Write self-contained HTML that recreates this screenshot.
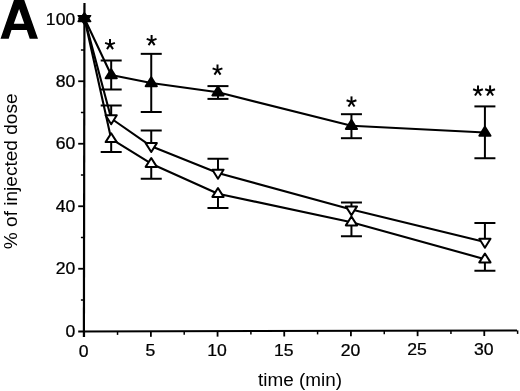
<!DOCTYPE html>
<html><head><meta charset="utf-8"><title>A</title>
<style>
html,body{margin:0;padding:0;background:#fff;}
body{width:520px;height:391px;overflow:hidden;}
svg{display:block;filter:grayscale(1);}
text{font-family:"Liberation Sans",sans-serif;fill:#000;}
</style></head><body>
<svg width="520" height="391" viewBox="0 0 520 391">
<rect width="520" height="391" fill="#fff"/>

<g stroke="#000" stroke-width="2" fill="none" stroke-linecap="butt">
<line x1="84.45" y1="3" x2="83.9" y2="337" stroke-width="2.2"/>
<line x1="78.2" y1="331.5" x2="517" y2="330.4"/>
<line x1="80.9" y1="300.00" x2="84.5" y2="300.00" stroke-width="1.5"/>
<line x1="78.2" y1="268.75" x2="84.5" y2="268.75" stroke-width="1.8"/>
<line x1="80.9" y1="237.50" x2="84.5" y2="237.50" stroke-width="1.5"/>
<line x1="78.2" y1="206.25" x2="84.5" y2="206.25" stroke-width="1.8"/>
<line x1="80.9" y1="175.00" x2="84.5" y2="175.00" stroke-width="1.5"/>
<line x1="78.2" y1="143.75" x2="84.5" y2="143.75" stroke-width="1.8"/>
<line x1="80.9" y1="112.50" x2="84.5" y2="112.50" stroke-width="1.5"/>
<line x1="78.2" y1="81.25" x2="84.5" y2="81.25" stroke-width="1.8"/>
<line x1="80.9" y1="50.00" x2="84.5" y2="50.00" stroke-width="1.5"/>
<line x1="78.2" y1="18.75" x2="84.5" y2="18.75" stroke-width="1.8"/>
<line x1="84.20" y1="331.48" x2="84.20" y2="336.98" stroke-width="1.8"/>
<line x1="117.54" y1="331.40" x2="117.54" y2="334.90" stroke-width="1.5"/>
<line x1="150.88" y1="331.32" x2="150.88" y2="336.82" stroke-width="1.8"/>
<line x1="184.22" y1="331.23" x2="184.22" y2="334.73" stroke-width="1.5"/>
<line x1="217.56" y1="331.15" x2="217.56" y2="336.65" stroke-width="1.8"/>
<line x1="250.90" y1="331.07" x2="250.90" y2="334.57" stroke-width="1.5"/>
<line x1="284.24" y1="330.98" x2="284.24" y2="336.48" stroke-width="1.8"/>
<line x1="317.58" y1="330.90" x2="317.58" y2="334.40" stroke-width="1.5"/>
<line x1="350.92" y1="330.82" x2="350.92" y2="336.32" stroke-width="1.8"/>
<line x1="384.26" y1="330.73" x2="384.26" y2="334.23" stroke-width="1.5"/>
<line x1="417.60" y1="330.65" x2="417.60" y2="336.15" stroke-width="1.8"/>
<line x1="450.94" y1="330.57" x2="450.94" y2="334.07" stroke-width="1.5"/>
<line x1="484.28" y1="330.48" x2="484.28" y2="335.98" stroke-width="1.8"/>
<line x1="517.62" y1="330.40" x2="517.62" y2="333.90" stroke-width="1.5"/>
</g>
<g stroke="#000" stroke-width="2" fill="none">
<line x1="111.19" y1="60.50" x2="111.19" y2="89.50"/>
<line x1="100.69" y1="60.50" x2="121.69" y2="60.50"/>
<line x1="100.69" y1="89.50" x2="121.69" y2="89.50"/>
<line x1="151.24" y1="53.85" x2="151.24" y2="112.00"/>
<line x1="140.74" y1="53.85" x2="161.74" y2="53.85"/>
<line x1="140.74" y1="112.00" x2="161.74" y2="112.00"/>
<line x1="217.97" y1="86.10" x2="217.97" y2="98.90"/>
<line x1="207.47" y1="86.10" x2="228.47" y2="86.10"/>
<line x1="207.47" y1="98.90" x2="228.47" y2="98.90"/>
<line x1="351.44" y1="114.20" x2="351.44" y2="138.20"/>
<line x1="340.94" y1="114.20" x2="361.94" y2="114.20"/>
<line x1="340.94" y1="138.20" x2="361.94" y2="138.20"/>
<line x1="484.91" y1="106.40" x2="484.91" y2="158.25"/>
<line x1="474.41" y1="106.40" x2="495.41" y2="106.40"/>
<line x1="474.41" y1="158.25" x2="495.41" y2="158.25"/>
<line x1="111.19" y1="105.50" x2="111.19" y2="118.50"/>
<line x1="100.69" y1="105.50" x2="121.69" y2="105.50"/>
<line x1="151.24" y1="130.50" x2="151.24" y2="146.30"/>
<line x1="140.74" y1="130.50" x2="161.74" y2="130.50"/>
<line x1="217.97" y1="158.75" x2="217.97" y2="173.00"/>
<line x1="207.47" y1="158.75" x2="228.47" y2="158.75"/>
<line x1="351.44" y1="202.50" x2="351.44" y2="209.60"/>
<line x1="340.94" y1="202.50" x2="361.94" y2="202.50"/>
<line x1="484.91" y1="223.00" x2="484.91" y2="242.00"/>
<line x1="474.41" y1="223.00" x2="495.41" y2="223.00"/>
<line x1="111.19" y1="138.90" x2="111.19" y2="152.00"/>
<line x1="100.69" y1="152.00" x2="121.69" y2="152.00"/>
<line x1="151.24" y1="163.70" x2="151.24" y2="178.75"/>
<line x1="140.74" y1="178.75" x2="161.74" y2="178.75"/>
<line x1="217.97" y1="193.70" x2="217.97" y2="208.00"/>
<line x1="207.47" y1="208.00" x2="228.47" y2="208.00"/>
<line x1="351.44" y1="222.20" x2="351.44" y2="236.25"/>
<line x1="340.94" y1="236.25" x2="361.94" y2="236.25"/>
<line x1="484.91" y1="259.20" x2="484.91" y2="270.75"/>
<line x1="474.41" y1="270.75" x2="495.41" y2="270.75"/>
</g>
<polyline points="84.50,18.50 111.19,75.00 151.24,83.00 217.97,92.30 351.44,125.80 484.91,132.50" stroke="#000" stroke-width="2.1" fill="none" stroke-linejoin="round"/>
<polyline points="84.50,18.50 111.19,118.50 151.24,146.30 217.97,173.00 351.44,209.60 484.91,242.00" stroke="#000" stroke-width="2.1" fill="none" stroke-linejoin="round"/>
<polyline points="84.50,18.50 111.19,138.90 151.24,163.70 217.97,193.70 351.44,222.20 484.91,259.20" stroke="#000" stroke-width="2.1" fill="none" stroke-linejoin="round"/>
<polygon points="111.19,124.20 105.59,115.30 116.79,115.30" fill="#fff" stroke="#000" stroke-width="2" stroke-linejoin="round"/>
<polygon points="111.19,133.20 105.59,142.10 116.79,142.10" fill="#fff" stroke="#000" stroke-width="2" stroke-linejoin="round"/>
<polygon points="111.19,69.30 105.59,78.20 116.79,78.20" fill="#000" stroke="#000" stroke-width="2" stroke-linejoin="round"/>
<polygon points="151.24,152.00 145.64,143.10 156.84,143.10" fill="#fff" stroke="#000" stroke-width="2" stroke-linejoin="round"/>
<polygon points="151.24,158.00 145.64,166.90 156.84,166.90" fill="#fff" stroke="#000" stroke-width="2" stroke-linejoin="round"/>
<polygon points="151.24,77.30 145.64,86.20 156.84,86.20" fill="#000" stroke="#000" stroke-width="2" stroke-linejoin="round"/>
<polygon points="217.97,178.70 212.37,169.80 223.57,169.80" fill="#fff" stroke="#000" stroke-width="2" stroke-linejoin="round"/>
<polygon points="217.97,188.00 212.37,196.90 223.57,196.90" fill="#fff" stroke="#000" stroke-width="2" stroke-linejoin="round"/>
<polygon points="217.97,86.60 212.37,95.50 223.57,95.50" fill="#000" stroke="#000" stroke-width="2" stroke-linejoin="round"/>
<polygon points="351.44,215.30 345.84,206.40 357.04,206.40" fill="#fff" stroke="#000" stroke-width="2" stroke-linejoin="round"/>
<polygon points="351.44,216.50 345.84,225.40 357.04,225.40" fill="#fff" stroke="#000" stroke-width="2" stroke-linejoin="round"/>
<polygon points="351.44,120.10 345.84,129.00 357.04,129.00" fill="#000" stroke="#000" stroke-width="2" stroke-linejoin="round"/>
<polygon points="484.91,247.70 479.31,238.80 490.51,238.80" fill="#fff" stroke="#000" stroke-width="2" stroke-linejoin="round"/>
<polygon points="484.91,253.50 479.31,262.40 490.51,262.40" fill="#fff" stroke="#000" stroke-width="2" stroke-linejoin="round"/>
<polygon points="484.91,126.80 479.31,135.70 490.51,135.70" fill="#000" stroke="#000" stroke-width="2" stroke-linejoin="round"/>
<polygon points="84.4,12.65 78.10000000000001,21.50 90.7,21.50" fill="#000" stroke="#000" stroke-width="1.4" stroke-linejoin="round"/>
<polygon points="84.4,24.45 78.10000000000001,15.60 90.7,15.60" fill="#000" stroke="#000" stroke-width="1.4" stroke-linejoin="round"/>
<path d="M0.5,38.7 L14.3,-1 L23.9,-1 L38,38.7 L29.7,38.7 L26.8,29.9 L11.5,29.9 L8.7,38.7 Z M13.8,23.7 L24.3,23.7 L19.1,9 Z" fill="#000" fill-rule="evenodd"/>
<text transform="translate(75.2,336.85) scale(1.1,1)" text-anchor="end" font-size="16" stroke="#000" stroke-width="0.25">0</text>
<text transform="translate(75.2,274.35) scale(1.1,1)" text-anchor="end" font-size="16" stroke="#000" stroke-width="0.25">20</text>
<text transform="translate(75.2,211.85) scale(1.1,1)" text-anchor="end" font-size="16" stroke="#000" stroke-width="0.25">40</text>
<text transform="translate(75.2,149.35) scale(1.1,1)" text-anchor="end" font-size="16" stroke="#000" stroke-width="0.25">60</text>
<text transform="translate(75.2,86.85) scale(1.1,1)" text-anchor="end" font-size="16" stroke="#000" stroke-width="0.25">80</text>
<text transform="translate(75.2,24.85) scale(1.1,1)" text-anchor="end" font-size="16" stroke="#000" stroke-width="0.25">100</text>
<text transform="translate(83.70,356.50) scale(1.1,1)" text-anchor="middle" font-size="16" stroke="#000" stroke-width="0.25">0</text>
<text transform="translate(150.38,356.28) scale(1.1,1)" text-anchor="middle" font-size="16" stroke="#000" stroke-width="0.25">5</text>
<text transform="translate(217.06,356.06) scale(1.1,1)" text-anchor="middle" font-size="16" stroke="#000" stroke-width="0.25">10</text>
<text transform="translate(283.74,355.84) scale(1.1,1)" text-anchor="middle" font-size="16" stroke="#000" stroke-width="0.25">15</text>
<text transform="translate(350.42,355.62) scale(1.1,1)" text-anchor="middle" font-size="16" stroke="#000" stroke-width="0.25">20</text>
<text transform="translate(417.10,355.40) scale(1.1,1)" text-anchor="middle" font-size="16" stroke="#000" stroke-width="0.25">25</text>
<text transform="translate(483.78,355.18) scale(1.1,1)" text-anchor="middle" font-size="16" stroke="#000" stroke-width="0.25">30</text>
<text x="300" y="386.2" text-anchor="middle" font-size="18.9">time (min)</text>
<text transform="translate(17.3,171.3) rotate(-90) scale(1.02,1)" text-anchor="middle" font-size="18.7">% of injected dose</text>
<g stroke="#000" stroke-width="2" stroke-linecap="butt">
<line x1="110.00" y1="44.60" x2="110.00" y2="39.00"/>
<line x1="110.00" y1="44.60" x2="114.90" y2="42.87"/>
<line x1="110.00" y1="44.60" x2="113.03" y2="49.13"/>
<line x1="110.00" y1="44.60" x2="106.97" y2="49.13"/>
<line x1="110.00" y1="44.60" x2="105.10" y2="42.87"/>
<line x1="151.60" y1="40.60" x2="151.60" y2="35.00"/>
<line x1="151.60" y1="40.60" x2="156.50" y2="38.87"/>
<line x1="151.60" y1="40.60" x2="154.63" y2="45.13"/>
<line x1="151.60" y1="40.60" x2="148.57" y2="45.13"/>
<line x1="151.60" y1="40.60" x2="146.70" y2="38.87"/>
<line x1="217.50" y1="70.10" x2="217.50" y2="64.50"/>
<line x1="217.50" y1="70.10" x2="222.40" y2="68.37"/>
<line x1="217.50" y1="70.10" x2="220.53" y2="74.63"/>
<line x1="217.50" y1="70.10" x2="214.47" y2="74.63"/>
<line x1="217.50" y1="70.10" x2="212.60" y2="68.37"/>
<line x1="351.50" y1="102.00" x2="351.50" y2="96.40"/>
<line x1="351.50" y1="102.00" x2="356.40" y2="100.27"/>
<line x1="351.50" y1="102.00" x2="354.53" y2="106.53"/>
<line x1="351.50" y1="102.00" x2="348.47" y2="106.53"/>
<line x1="351.50" y1="102.00" x2="346.60" y2="100.27"/>
<line x1="478.00" y1="91.00" x2="478.00" y2="85.40"/>
<line x1="478.00" y1="91.00" x2="482.90" y2="89.27"/>
<line x1="478.00" y1="91.00" x2="481.03" y2="95.53"/>
<line x1="478.00" y1="91.00" x2="474.97" y2="95.53"/>
<line x1="478.00" y1="91.00" x2="473.10" y2="89.27"/>
<line x1="490.10" y1="91.00" x2="490.10" y2="85.40"/>
<line x1="490.10" y1="91.00" x2="495.00" y2="89.27"/>
<line x1="490.10" y1="91.00" x2="493.13" y2="95.53"/>
<line x1="490.10" y1="91.00" x2="487.07" y2="95.53"/>
<line x1="490.10" y1="91.00" x2="485.20" y2="89.27"/>
</g>
</svg></body></html>
